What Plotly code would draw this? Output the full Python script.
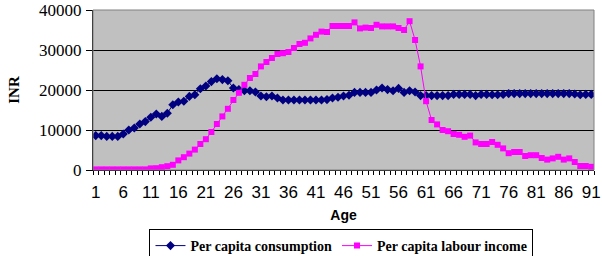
import plotly.graph_objects as go

ages = list(range(1, 92))

consumption = [
    8600, 8600, 8400, 8400, 8400, 9000, 10000, 10500, 11500, 12100,
    13200, 14000, 13400, 14200, 16300, 17000, 17200, 18400, 18800, 20300,
    21000, 22100, 22800, 22600, 22300, 20500, 20100, 19800, 19800, 19500,
    18500, 18300, 18500, 18000, 17500, 17500, 17500, 17500, 17500, 17500,
    17500, 17500, 17600, 18000, 18200, 18500, 18700, 19400, 19400, 19400,
    19400, 20000, 20500, 20100, 19800, 20400, 19400, 19800, 19500, 18600,
    18600, 18600, 18600, 18600, 18600, 18900, 18900, 18900, 18900, 18600,
    18900, 18900, 18800, 18800, 18900, 19100, 19100, 19100, 19100, 19100,
    19100, 19100, 19100, 19100, 19100, 19100, 19100, 19000, 18800, 18900,
    18900,
]

labour_income = [
    150, 150, 150, 150, 150, 150, 150, 150, 150, 150,
    400, 450, 700, 950, 1300, 2400, 3200, 4100, 5100, 6500,
    7700, 9500, 11500, 13400, 15300, 17500, 19300, 21300, 23000, 24000,
    25900, 27000, 28000, 29000, 29200, 29500, 30500, 31500, 31800, 32900,
    33800, 34600, 34500, 36000, 36000, 36000, 36000, 36900, 35400, 35600,
    35500, 36300, 35900, 35900, 35900, 35500, 35000, 37200, 32500, 25900,
    17200, 12500, 11400, 10000, 9700, 9000, 8800, 8300, 8600, 6900,
    6500, 6500, 7000, 6300, 5400, 4200, 4500, 4500, 3500, 3700,
    3700, 3000, 2600, 2900, 3300, 2600, 2900, 2000, 1000, 1000,
    800,
]

x_tick_labels = [str(a) for a in range(1, 92, 5)]
y_ticks = [0, 10000, 20000, 30000, 40000]

W, H = 602, 256

fig = go.Figure()
fig.add_trace(go.Scatter(
    x=ages, y=consumption, name="Per capita consumption",
    mode="lines+markers",
    line=dict(color="#000080", width=1),
    marker=dict(symbol="diamond", size=7, color="#000080"),
))
fig.add_trace(go.Scatter(
    x=ages, y=labour_income, name="Per capita labour income",
    mode="lines+markers",
    line=dict(color="#FF00FF", width=1),
    marker=dict(symbol="square", size=6, color="#FF00FF"),
))

fig.update_layout(
    width=W, height=H,
    margin=dict(l=93, r=8, t=10, b=86, autoexpand=False),
    paper_bgcolor="white",
    plot_bgcolor="#C0C0C0",
    showlegend=True,
    legend=dict(
        orientation="h",
        xref="paper", x=0.496, xanchor="center",
        yref="container", y=1 - 229 / H, yanchor="top",
        bordercolor="black", borderwidth=1,
        bgcolor="white",
        font=dict(family="Liberation Serif", size=14, color="black", weight="bold"),
        itemwidth=30,
    ),
    shapes=[dict(
        type="rect", xref="x domain", yref="y domain",
        x0=0, x1=1, y0=0, y1=1,
        line=dict(color="#808080", width=1), layer="above",
    )],
)

fig.update_xaxes(
    range=[0.5, 91.5],
    automargin=False,
    tickmode="array",
    tickvals=[int(t) for t in x_tick_labels],
    ticktext=x_tick_labels,
    ticks="",
    ticklabelstandoff=7,
    minor=dict(ticks="outside", tick0=0.5, dtick=1, ticklen=4, tickcolor="black", showgrid=False),
    showgrid=False, zeroline=False,
    showline=True, linecolor="black", linewidth=1,
    tickfont=dict(family="Liberation Sans", size=17, color="black"),
    title=dict(text="Age", font=dict(family="Liberation Sans", size=14, color="black", weight="bold"), standoff=8),
)

fig.update_yaxes(
    range=[0, 40000],
    automargin=False,
    tickmode="array",
    tickvals=y_ticks,
    ticktext=[str(v) for v in y_ticks],
    ticks="outside", ticklen=6, tickcolor="black",
    ticklabelstandoff=1,
    showgrid=True, gridcolor="black", gridwidth=1,
    zeroline=False,
    showline=True, linecolor="black", linewidth=1,
    tickfont=dict(family="Liberation Serif", size=17, color="black"),
    title=dict(text="INR", font=dict(family="Liberation Serif", size=15, color="black", weight="bold"), standoff=15),
)

# Remove the browser's default 8px body margin so the figure fills the window.
fig.write_html(
    "out.html",
    config={"displayModeBar": False},
    post_script="document.body.style.margin='0px';",
)
